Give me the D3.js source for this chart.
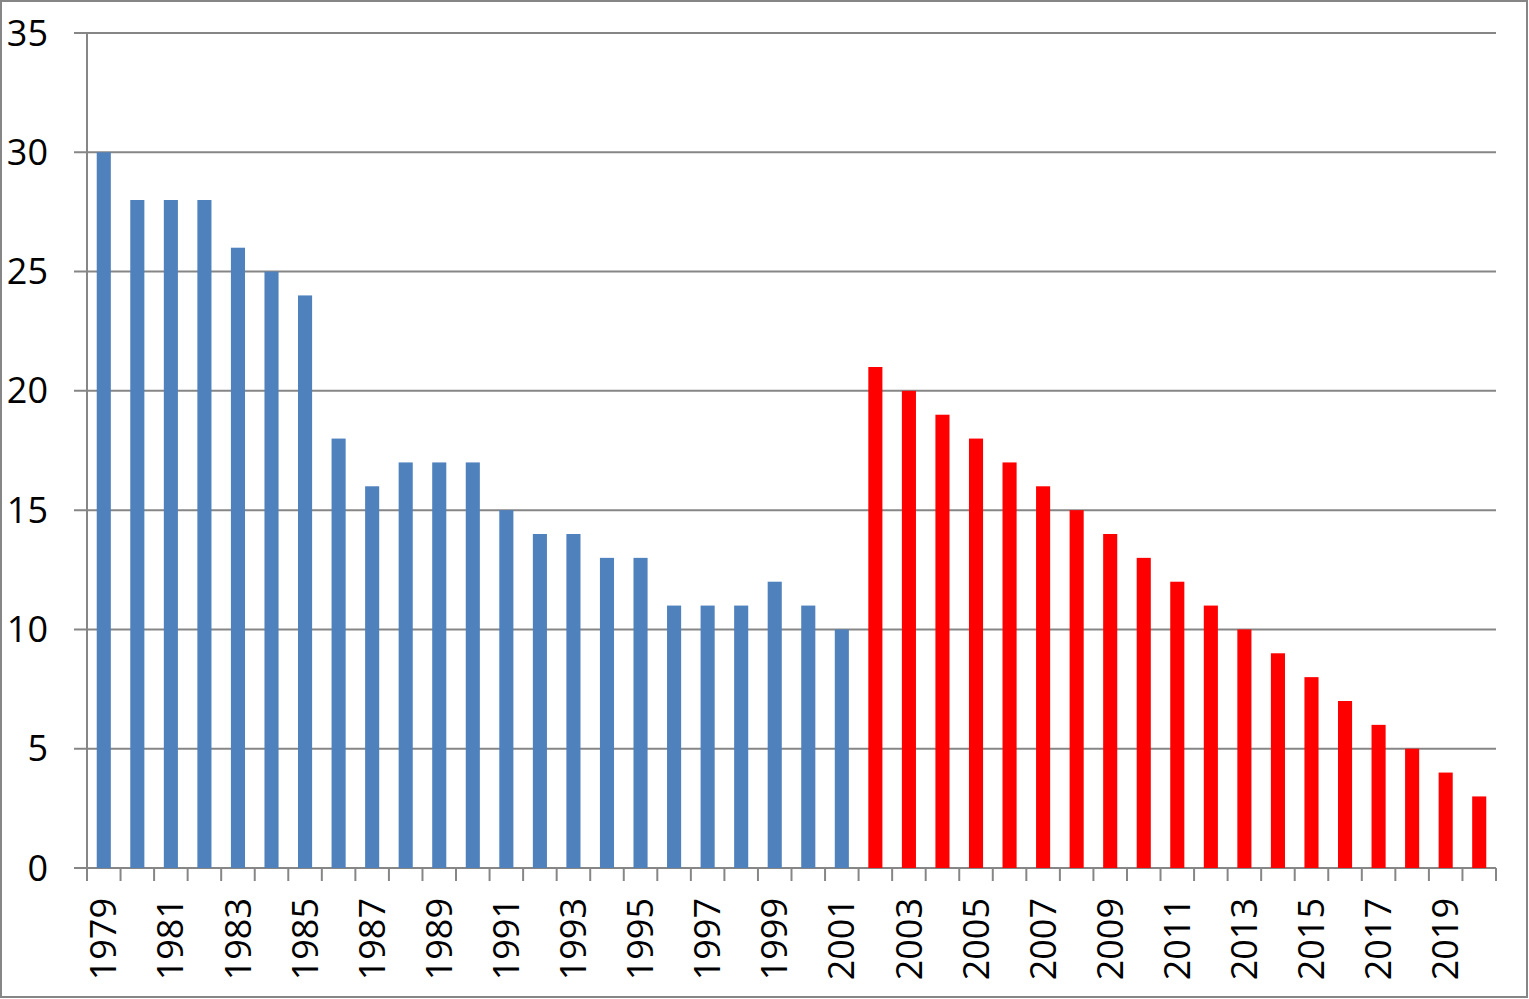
<!DOCTYPE html>
<html><head><meta charset="utf-8">
<script src="https://cdn.jsdelivr.net/npm/d3@7"></script>
<style>html,body{margin:0;padding:0;background:#fff;}svg{display:block;}</style>
</head><body>
<script>
const years = d3.range(1979, 2021);
const values = [30,28,28,28,26,25,24,18,16,17,17,17,15,14,14,13,13,11,11,11,12,11,10,
                21,20,19,18,17,16,15,14,13,12,11,10,9,8,7,6,5,4,3];
const splitYear = 2002;
const yTicks = [0,5,10,15,20,25,30,35];
const xLabelYears = years.filter((y,i)=>i%2===0);
const colors = {before:"#4F81BD", after:"#FF0000"};

(function(){
const W=1529,H=999;
const mLeft=87,mRight=1496,mTop=33,mBottom=868;
const svg=d3.select("body").append("svg").attr("width",W).attr("height",H);
svg.append("rect").attr("x",1).attr("y",1).attr("width",W-3).attr("height",H-3)
  .attr("fill","#fff").attr("stroke","#868686").attr("stroke-width",2);

const x=d3.scaleBand().domain(years).range([mLeft,mRight]).paddingInner(0.58).paddingOuter(0.29);
const y=d3.scaleLinear().domain([0,35]).range([mBottom,mTop]);
const step=x.step(), bw=x.bandwidth();
const grid="#868686";
const font="'Open Sans', 'Liberation Sans', sans-serif";

svg.append("g").selectAll("line").data(yTicks).join("line")
  .attr("x1",mLeft-13).attr("x2",mRight).attr("y1",d=>y(d)).attr("y2",d=>y(d))
  .attr("stroke",grid).attr("stroke-width",2);
svg.append("line").attr("x1",mLeft).attr("x2",mLeft).attr("y1",y(35)).attr("y2",mBottom+13)
  .attr("stroke",grid).attr("stroke-width",2);
const bounds=years.map(d=>x(d)-(step-bw)/2).concat([mRight]);
svg.append("g").selectAll("line").data(bounds).join("line")
  .attr("x1",d=>d).attr("x2",d=>d).attr("y1",mBottom).attr("y2",mBottom+13)
  .attr("stroke",grid).attr("stroke-width",2);

svg.append("g").selectAll("rect").data(years).join("rect")
  .attr("x",d=>x(d)).attr("width",bw)
  .attr("y",(d,i)=>y(values[i])).attr("height",(d,i)=>mBottom-y(values[i]))
  .attr("fill",d=>d<splitYear?colors.before:colors.after);

svg.append("g").selectAll("text").data(yTicks).join("text")
  .attr("x",48).attr("y",d=>y(d)).attr("dy","0.35em").attr("text-anchor","end")
  .style("font-family",font).style("font-size","36px").attr("fill","#000").text(d=>d);

svg.append("g").selectAll("text").data(xLabelYears).join("text")
  .attr("transform",d=>`translate(${x(d)+bw/2},898) rotate(-90)`)
  .attr("dy","0.35em").attr("text-anchor","end")
  .style("font-family",font).style("font-size","36px").attr("fill","#000").text(d=>d);
})();
</script>
</body></html>
